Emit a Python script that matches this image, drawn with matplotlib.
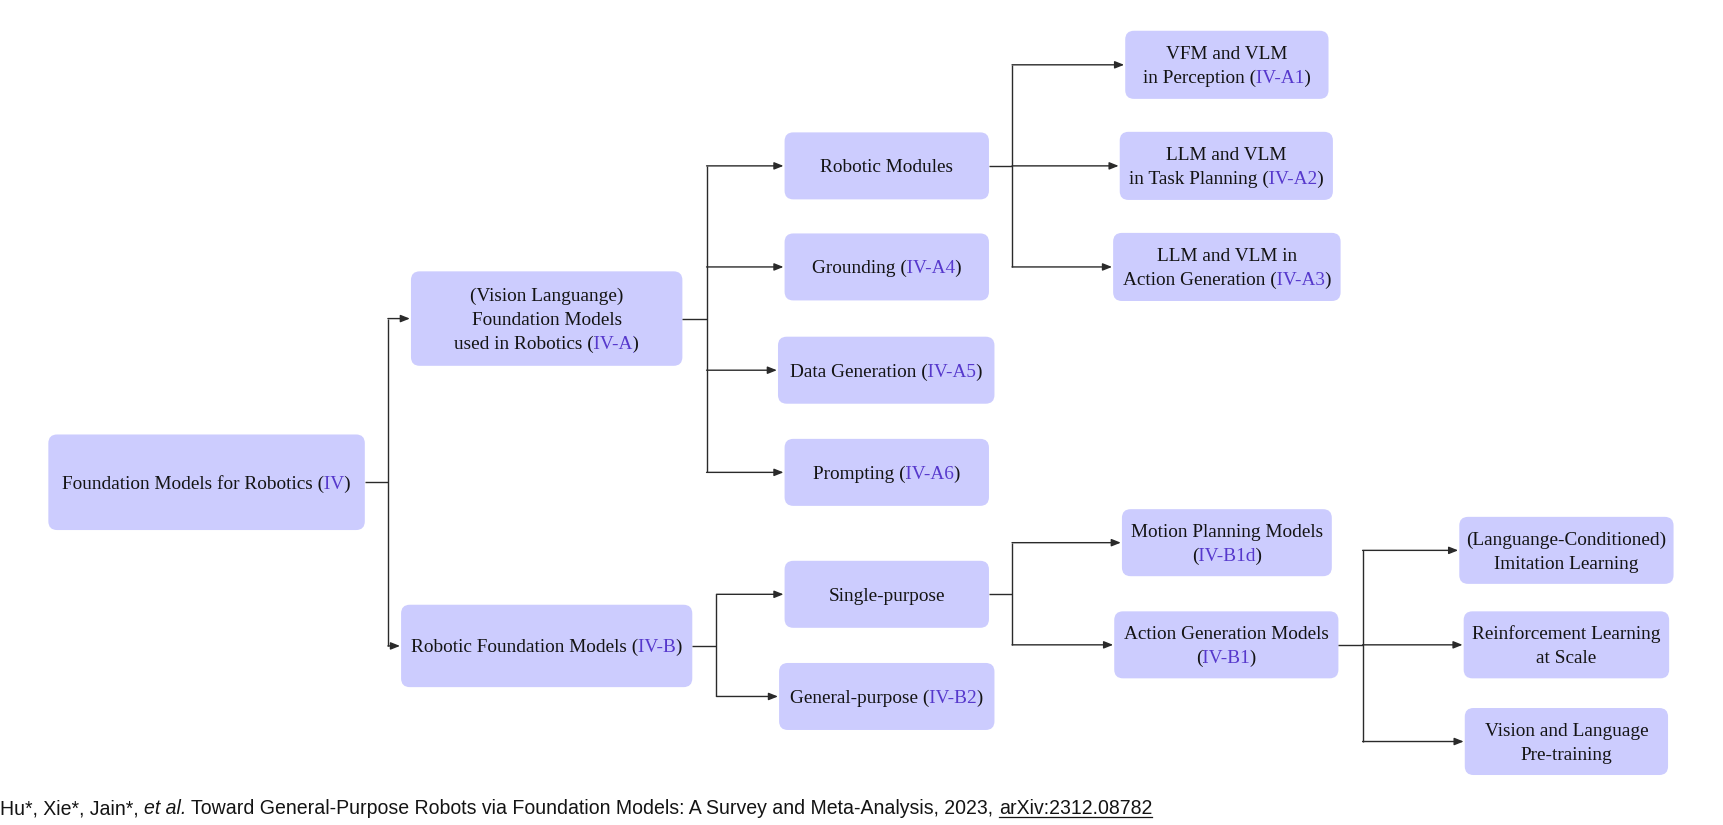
import matplotlib
matplotlib.use('Agg')
import matplotlib.pyplot as plt
from matplotlib.patches import FancyBboxPatch
from matplotlib.transforms import Bbox
from matplotlib import font_manager

# ---------------- data ----------------
node_ids = ['root', 'fm', 'rfm', 'mod', 'gnd', 'dgen', 'prm', 'perc', 'plan',
            'act', 'single', 'general', 'motion', 'actgen', 'il', 'rl', 'vlp']

node_lines = {
    'root': ['Foundation Models for Robotics'],
    'fm': ['(Vision Languange)', 'Foundation Models', 'used in Robotics'],
    'rfm': ['Robotic Foundation Models'],
    'mod': ['Robotic Modules'],
    'gnd': ['Grounding'],
    'dgen': ['Data Generation'],
    'prm': ['Prompting'],
    'perc': ['VFM and VLM', 'in Perception'],
    'plan': ['LLM and VLM', 'in Task Planning'],
    'act': ['LLM and VLM in', 'Action Generation'],
    'single': ['Single-purpose'],
    'general': ['General-purpose'],
    'motion': ['Motion Planning Models', ''],
    'actgen': ['Action Generation Models', ''],
    'il': ['(Languange-Conditioned)', 'Imitation Learning'],
    'rl': ['Reinforcement Learning', 'at Scale'],
    'vlp': ['Vision and Language', 'Pre-training'],
}

node_refs = {
    'root': 'IV', 'fm': 'IV-A', 'rfm': 'IV-B', 'gnd': 'IV-A4', 'dgen': 'IV-A5',
    'prm': 'IV-A6', 'perc': 'IV-A1', 'plan': 'IV-A2', 'act': 'IV-A3',
    'general': 'IV-B2', 'motion': 'IV-B1d', 'actgen': 'IV-B1',
}

children = {
    'root': ['fm', 'rfm'],
    'fm': ['mod', 'gnd', 'dgen', 'prm'],
    'mod': ['perc', 'plan', 'act'],
    'rfm': ['single', 'general'],
    'single': ['motion', 'actgen'],
    'actgen': ['il', 'rl', 'vlp'],
}

footer_parts = [('Hu*, Xie*, Jain*, ', 'normal'), ('et al.', 'italic'),
                (' Toward General-Purpose Robots via Foundation Models: '
                 'A Survey and Meta-Analysis, 2023, ', 'normal'),
                ('arXiv:2312.08782', 'link')]

# ---------------- layout (canvas units, 1568 x 751, y down) ----------------
W, H = 1568, 751
box = {  # x0, x1, y centre, height
    'root': (44, 332, 439, 87),
    'fm': (374, 621, 290, 86),
    'rfm': (365, 630, 588, 75),
    'mod': (714, 900, 151, 61),
    'gnd': (714, 900, 243, 61),
    'dgen': (708, 905, 337, 61),
    'prm': (714, 900, 430, 61),
    'perc': (1024, 1209, 59, 62),
    'plan': (1019, 1213, 151, 62),
    'act': (1013, 1220, 243, 62),
    'single': (714, 900, 541, 61),
    'general': (709, 905, 634, 61),
    'motion': (1021, 1212, 494, 61),
    'actgen': (1014, 1218, 587, 61),
    'il': (1328, 1523, 501, 61),
    'rl': (1332, 1519, 587, 61),
    'vlp': (1333, 1518, 675, 61),
}
trunk_x = {'root': 353, 'fm': 643, 'mod': 921, 'rfm': 652, 'single': 921, 'actgen': 1240}

FILL = '#ccccfe'
REFC = '#5638cc'
TXTC = '#141414'
LINEC = '#2a2a2a'
SERIF = 'Liberation Serif'
FS = 13.9
PITCH = 22

avail = {f.name for f in font_manager.fontManager.ttflist}
SANS = 'Liberation Sans'
for cand in ['Liberation Sans Narrow', 'DejaVu Sans Condensed', 'Liberation Sans']:
    if cand in avail:
        SANS = cand
        break

fig = plt.figure(figsize=(17.23, 8.25), dpi=100)
ax = fig.add_axes([0, 0, 1, 1])
ax.set_xlim(0, W)
ax.set_ylim(H, 0)
ax.axis('off')
renderer = fig.canvas.get_renderer()
px_per_unit = 1723 / W


def text_w(s, **kw):
    # advance width in canvas units (bar trick keeps trailing spaces)
    t1 = ax.text(0, 0, '|' + s + '|', **kw)
    t2 = ax.text(0, 0, '||', **kw)
    w = t1.get_window_extent(renderer).width - t2.get_window_extent(renderer).width
    t1.remove()
    t2.remove()
    return w / px_per_unit


def right_edge(s, x, y):
    t = ax.text(x, y, s, fontsize=FS, family=SERIF, ha='left', va='baseline')
    r = t.get_window_extent(renderer).x1
    t.remove()
    return r


def label_line(cx, ybase, pre, ref, post):
    full = pre + ref + post
    kw = dict(fontsize=FS, family=SERIF, ha='center', va='baseline')
    if not ref:
        ax.text(cx, ybase, full, color=TXTC, **kw)
        return
    probe = ax.text(cx, ybase, full, **kw)
    ext = probe.get_window_extent(renderer)
    probe.remove()
    xl = ax.transData.inverted().transform((ext.x0, 0))[0]
    b1 = right_edge(pre, xl, ybase) + 1.0
    b2 = right_edge(pre + ref, xl, ybase) + 1.0
    y0, y1 = ext.y0 - 10, ext.y1 + 10
    spans = [(ext.x0 - 10, b1, TXTC), (b1, b2, REFC), (b2, ext.x1 + 10, TXTC)]
    for a, b, c in spans:
        t = ax.text(cx, ybase, full, color=c, **kw)
        t.set_clip_box(Bbox([[a, y0], [b, y1]]))
        t.set_clip_on(True)


# boxes and labels
for nid in node_ids:
    x0, x1, yc, h = box[nid]
    ax.add_patch(FancyBboxPatch((x0, yc - h / 2), x1 - x0, h,
                                boxstyle='round,pad=0,rounding_size=8',
                                fc=FILL, ec='none', zorder=1))
    lines = node_lines[nid]
    n = len(lines)
    for i, ln in enumerate(lines):
        ybase = yc + (i - (n - 1) / 2) * PITCH + 5.8
        if i == n - 1 and nid in node_refs:
            pre = ln + ' (' if ln else '('
            label_line((x0 + x1) / 2, ybase, pre, node_refs[nid], ')')
        else:
            label_line((x0 + x1) / 2, ybase, ln, '', '')

# connectors
arrow = dict(arrowstyle='-|>,head_length=0.55,head_width=0.22', lw=1.0,
             color=LINEC, shrinkA=0, shrinkB=0)
for p, kids in children.items():
    px0, px1, pyc, ph = box[p]
    tx = trunk_x[p]
    ys = [box[k][2] for k in kids]
    ax.plot([px1, tx], [pyc, pyc], color=LINEC, lw=1.0, solid_capstyle='butt')
    ax.plot([tx, tx], [min(ys), max(ys)], color=LINEC, lw=1.0, solid_capstyle='butt')
    for k in kids:
        kx0, kx1, kyc, kh = box[k]
        ax.annotate('', xy=(kx0 - 1, kyc), xytext=(tx, kyc), arrowprops=arrow)

# footer
FFS = 13.5
target = 1047
tot = sum(text_w(s, fontsize=FFS, family=SANS,
                 style='italic' if k == 'italic' else 'normal') for s, k in footer_parts)
FFS = FFS * target / tot
x = 0
yb = 741
for s, k in footer_parts:
    st = 'italic' if k == 'italic' else 'normal'
    ax.text(x, yb, s, fontsize=FFS, family=SANS, style=st, color=TXTC,
            ha='left', va='baseline')
    w = text_w(s, fontsize=FFS, family=SANS, style=st)
    if k == 'link':
        ax.plot([x, x + w], [yb + 2.5, yb + 2.5], color=TXTC, lw=0.9)
    x += w

fig.savefig('out.png', dpi=100, facecolor='white')
